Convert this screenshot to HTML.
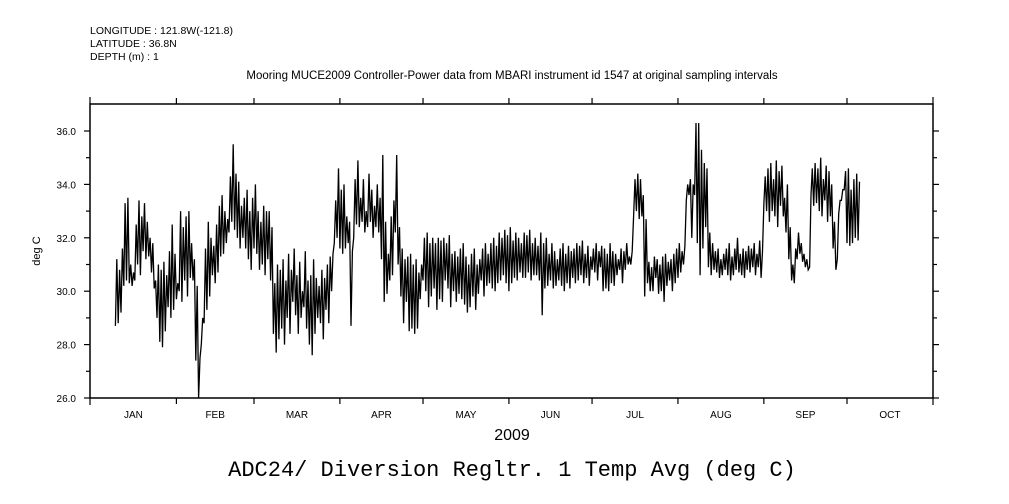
<!DOCTYPE html>
<html><head><meta charset="utf-8"><style>
body{margin:0;background:#fff;}
svg{display:block;font-family:"Liberation Sans",sans-serif;}
</style></head><body>
<svg width="1009" height="504" viewBox="0 0 1009 504">
<g id="hdr" font-size="10.5" fill="#000">
<text x="90" y="34">LONGITUDE : 121.8W(-121.8)</text>
<text x="90" y="47">LATITUDE : 36.8N</text>
<text x="90" y="60">DEPTH (m) : 1</text>
<text x="512" y="79" text-anchor="middle" font-size="11.5">Mooring MUCE2009 Controller-Power data from MBARI instrument id 1547 at original sampling intervals</text>
</g>
<rect x="90" y="104" width="843" height="294" fill="none" stroke="#000" stroke-width="1.5"/>
<g id="axes"></g>
<path id="series" fill="none" stroke="#000" stroke-width="1.3"/>
<text x="512" y="440" text-anchor="middle" font-size="16">2009</text>
<text x="40" y="251" text-anchor="middle" font-size="11" transform="rotate(-90 40 251)">deg C</text>
<text x="512" y="476" text-anchor="middle" font-size="22" font-family="'Liberation Mono',monospace">ADC24/ Diversion Regltr. 1 Temp Avg (deg C)</text>
</svg>
<script>
const yTicks=[26,28,30,32,34,36];
const yMinor=[27,29,31,33,35];
const monthLabels=["JAN","FEB","MAR","APR","MAY","JUN","JUL","AUG","SEP","OCT"];
const monthStartDays=[1,32,60,91,121,152,182,213,244,274,305];
const startDay=10;
const hi=[31.2,30.8,31.6,33.3,33.5,31.0,30.7,32.5,33.4,32.8,33.3,32.6,32.0,31.8,30.4,31.0,30.8,31.1,30.6,31.5,32.5,31.4,30.3,33.0,32.4,32.8,33.0,31.8,31.2,30.2,27.5,29.0,31.6,32.6,32.0,31.7,32.5,33.2,33.6,33.0,32.7,34.3,35.5,34.4,34.1,33.2,33.5,33.8,33.0,33.5,34.0,33.0,32.6,33.2,33.0,33.0,32.4,30.3,31.0,30.8,31.2,30.4,31.4,30.8,31.6,30.6,31.1,30.0,31.5,30.4,30.6,31.2,30.5,30.2,30.8,30.5,31.0,31.3,31.4,33.4,34.6,33.8,34.0,32.8,32.6,31.5,34.2,34.9,33.5,34.2,33.0,34.4,33.8,33.2,34.0,33.5,35.1,32.6,31.4,32.8,33.4,35.1,32.4,31.6,31.2,31.3,31.4,31.0,31.2,30.7,31.0,32.0,32.2,31.8,32.0,31.8,32.0,31.9,32.0,31.8,32.1,31.4,31.5,31.3,31.6,31.8,31.3,31.0,31.4,31.6,31.0,31.2,31.6,31.8,31.4,31.8,32.0,31.7,32.2,32.0,32.3,32.1,32.4,31.9,32.2,32.0,31.8,32.2,32.1,32.3,31.8,32.0,31.7,32.2,31.8,32.0,31.4,31.8,31.5,31.2,31.6,31.8,31.4,31.7,31.5,31.6,31.8,31.7,31.9,31.4,31.7,31.3,31.6,31.8,31.5,31.7,31.6,31.4,31.8,31.5,31.4,31.2,31.6,31.5,31.8,31.3,31.5,34.2,34.4,34.2,33.6,32.7,31.1,30.9,31.3,31.2,31.0,31.3,31.4,31.1,31.2,31.4,31.6,31.8,31.5,31.7,34.0,34.2,34.0,36.3,36.3,35.3,34.8,34.6,32.2,31.8,31.5,31.6,31.2,31.4,31.6,31.8,31.3,31.6,32.0,31.4,31.6,31.5,31.7,31.6,31.8,31.4,31.9,31.5,34.3,34.6,34.8,34.2,34.9,34.5,34.7,33.5,34.0,32.4,31.0,31.6,32.2,31.8,31.4,31.2,30.9,34.6,34.8,34.6,35.0,34.2,34.7,34.5,34.0,32.6,31.2,33.4,33.8,34.5,34.6,33.8,34.2,34.4,34.1];
const lo=[28.7,28.8,29.2,30.2,30.4,30.3,30.2,30.4,31.0,30.6,31.5,31.2,31.3,30.7,30.1,29.0,28.1,27.9,28.5,29.4,29.0,29.3,29.7,30.0,29.6,30.4,29.8,30.5,30.4,27.4,26.0,28.0,28.8,29.3,29.8,30.6,30.3,30.7,31.3,31.4,31.8,32.2,32.6,32.3,32.0,31.6,32.0,31.6,31.2,30.8,31.6,31.4,30.8,31.0,30.6,31.2,30.4,28.4,27.7,28.2,28.6,28.0,29.0,28.4,29.6,29.1,28.4,29.0,29.4,28.6,28.0,27.6,28.4,29.0,28.8,28.2,29.3,28.8,30.0,31.8,32.0,31.6,31.4,31.6,31.8,28.7,32.0,32.5,32.4,32.6,32.2,32.4,32.6,32.0,32.4,32.2,31.2,29.6,29.9,30.4,30.6,32.2,31.0,29.8,28.8,29.6,28.5,28.6,28.4,28.6,29.7,30.4,30.0,29.4,29.8,30.1,29.3,29.7,29.6,30.4,30.1,29.4,30.0,29.6,29.9,29.7,29.5,29.2,29.4,29.8,29.3,29.9,30.4,29.8,30.2,30.3,30.1,30.0,30.3,30.4,30.6,30.3,30.0,30.3,30.5,30.4,30.7,30.5,30.5,30.7,30.4,30.6,30.6,30.4,29.1,30.1,30.2,30.4,30.1,30.2,30.4,30.2,30.0,30.3,30.1,30.5,30.3,30.4,30.6,30.3,30.5,30.2,30.8,30.7,30.4,30.9,30.0,30.1,30.0,30.3,30.2,30.6,30.8,30.3,30.8,31.0,31.0,32.8,33.0,32.7,32.8,29.8,30.3,30.0,30.0,30.5,29.9,30.0,29.6,30.2,30.4,30.0,30.3,30.5,30.7,31.0,33.4,33.6,32.0,33.6,31.8,30.6,31.6,32.4,30.9,30.6,30.8,30.7,30.5,30.6,30.8,30.6,30.4,30.6,30.8,30.7,30.6,30.5,30.8,30.7,30.9,30.6,30.9,30.5,33.3,33.0,32.6,33.0,32.8,32.4,33.2,32.8,32.2,31.2,30.4,30.3,31.2,31.4,31.1,30.9,30.8,33.6,33.2,33.3,33.0,32.8,33.4,32.6,32.8,31.6,30.8,32.9,33.4,33.8,31.8,31.7,31.8,32.0,31.9];

const NS='http://www.w3.org/2000/svg';
function xPos(day){return 90.5+(day-1)*2.771;}
function yPos(v){return 398-(v-26)*26.7;}
const axes=document.getElementById('axes');
function line(x1,y1,x2,y2,name){
  const l=document.createElementNS(NS,'line');
  l.setAttribute('x1',x1);l.setAttribute('y1',y1);l.setAttribute('x2',x2);l.setAttribute('y2',y2);
  l.setAttribute('stroke','#000');l.setAttribute('stroke-width','1.2');
  
  
  axes.appendChild(l);
}
function txt(x,y,s,anchor,size,name){
  const t=document.createElementNS(NS,'text');
  t.setAttribute('x',x);t.setAttribute('y',y);t.setAttribute('text-anchor',anchor);
  t.setAttribute('font-size',size);t.textContent=s;
  
  
  axes.appendChild(t);
}
yTicks.forEach(v=>{const y=yPos(v);line(84,y,90,y,'y-tick');line(933,y,939,y,'y-tick-right');
  txt(76,y+4,v.toFixed(1),'end',10,'y-tick-label');});
yMinor.forEach(v=>{const y=yPos(v);line(86,y,90,y,'y-minor-tick');line(933,y,937,y,'y-minor-tick-right');});
line(90,97,90,104,'corner-tick');line(933,97,933,104,'corner-tick');
line(90,398,90,405,'corner-tick');line(933,398,933,405,'corner-tick');
monthStartDays.slice(1,10).forEach(d=>{const x=xPos(d);line(x,398,x,404,'x-tick');line(x,98,x,104,'x-tick-top');});
monthLabels.forEach((m,i)=>{const x=(xPos(monthStartDays[i])+xPos(monthStartDays[i+1]))/2;
  txt(x,418,m,'middle',10,'x-tick-label');});
let d='';
hi.forEach((h,i)=>{const day=startDay+i;
  d+=(i?'L':'M')+xPos(day).toFixed(1)+' '+yPos(lo[i]).toFixed(1);
  d+='L'+xPos(day+0.5).toFixed(1)+' '+yPos(h).toFixed(1);});
document.getElementById('series').setAttribute('d',d);
</script>
</body></html>
